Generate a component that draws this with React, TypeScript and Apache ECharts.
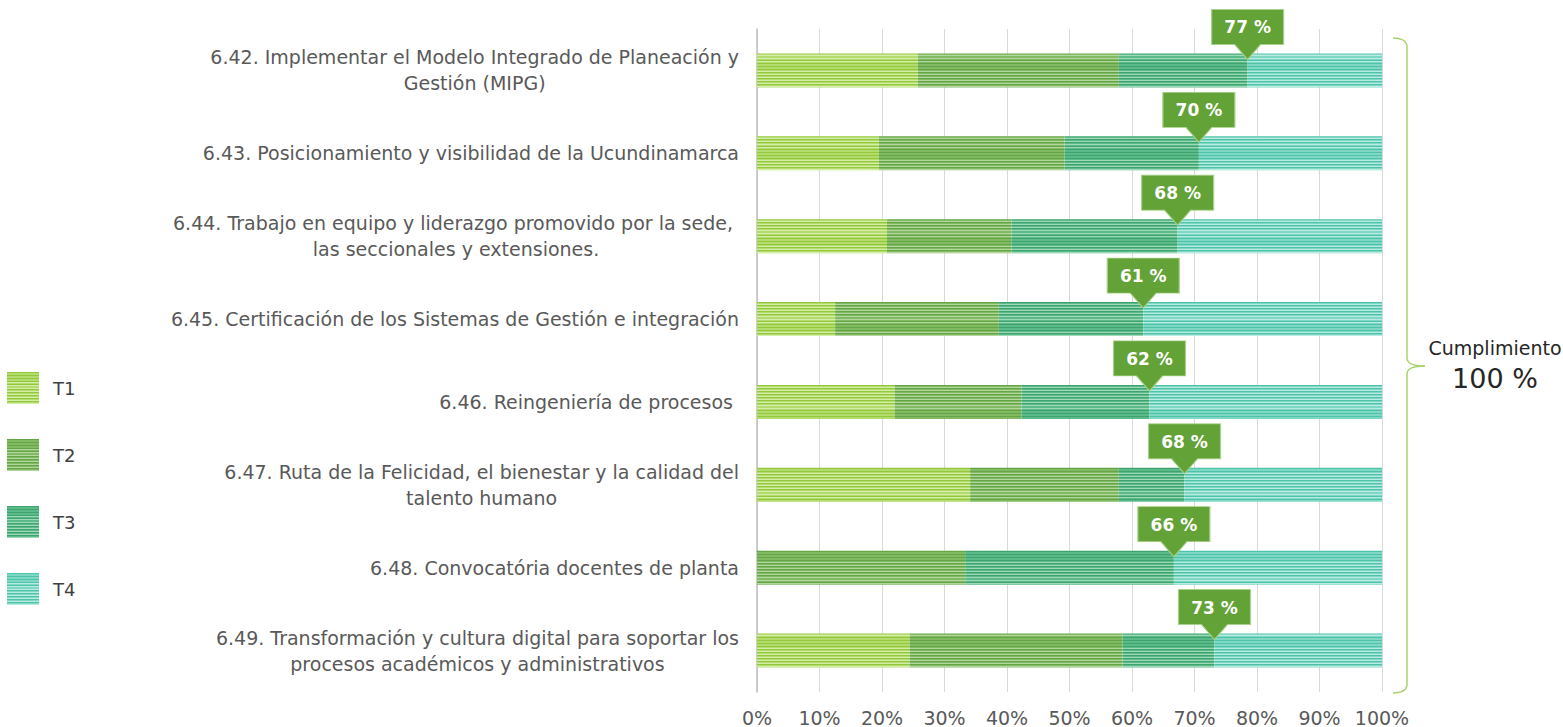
import React, { useEffect, useRef } from "react";
import * as echarts from "echarts";

const categories = [
  "6.42. Implementar el Modelo Integrado de Planeación y\nGestión (MIPG)",
  "6.43. Posicionamiento y visibilidad de la Ucundinamarca",
  "6.44. Trabajo en equipo y liderazgo promovido por la sede, \nlas seccionales y extensiones.",
  "6.45. Certificación de los Sistemas de Gestión e integración",
  "6.46. Reingeniería de procesos ",
  "6.47. Ruta de la Felicidad, el bienestar y la calidad del\ntalento humano",
  "6.48. Convocatória docentes de planta",
  "6.49. Transformación y cultura digital para soportar los\nprocesos académicos y administrativos",
];

const seriesNames = ["T1", "T2", "T3", "T4"];
const t1 = [25.7, 19.5, 20.8, 12.5, 22.0, 34.1, 0, 24.4];
const t2 = [32.2, 29.7, 19.9, 26.2, 20.3, 23.8, 33.3, 34.1];
const t3 = [20.6, 21.5, 26.6, 23.1, 20.5, 10.5, 33.4, 14.7];
const t4 = [21.5, 29.3, 32.7, 38.2, 37.2, 31.6, 33.3, 26.8];
const cumplimiento = [77, 70, 68, 61, 62, 68, 66, 73];
const xTicks = [0, 10, 20, 30, 40, 50, 60, 70, 80, 90, 100];

const FONT = "'DejaVu Sans', sans-serif";
const TEXT = "#595959";

// base, light line, dark line
const palettes = [
  ["#b4db6e", "#d6edaa", "#92c93a"],
  ["#82ba64", "#b3d69f", "#64a545"],
  ["#5cb98a", "#9fd8b9", "#3ca46c"],
  ["#7fd7c4", "#b9ebe0", "#4cc4a9"],
];

function stripes(p: string[]) {
  const n = 11;
  const stops: { offset: number; color: string }[] = [];
  for (let i = 0; i < n; i++) {
    const a = i / n;
    const w = 1 / n;
    stops.push({ offset: a, color: p[2] });
    stops.push({ offset: a + w * 0.3, color: p[2] });
    stops.push({ offset: a + w * 0.3, color: p[0] });
    stops.push({ offset: a + w * 0.6, color: p[0] });
    stops.push({ offset: a + w * 0.6, color: p[1] });
    stops.push({ offset: a + w * 0.85, color: p[1] });
    stops.push({ offset: a + w * 0.85, color: p[0] });
    stops.push({ offset: a + w, color: p[0] });
  }
  return new echarts.graphic.LinearGradient(0, 0, 0, 1, stops);
}

const calloutPath =
  "path://M0,0 L72,0 L72,35 L49,35 L36,50 L23,35 L0,35 Z";

const BRACE = { stroke: "#a8d46f", lineWidth: 1.5, fill: "none" };

export default function App() {
  const ref = useRef<HTMLDivElement>(null);
  useEffect(() => {
    if (!ref.current) return;
    const chart = echarts.init(ref.current, undefined, { renderer: "svg" });
    const values = [t1, t2, t3, t4];
    const series: any[] = values.map((v, i) => ({
      name: seriesNames[i],
      type: "bar",
      stack: "total",
      barWidth: 34,
      data: v,
      itemStyle: { color: stripes(palettes[i]) },
      emphasis: { disabled: true },
    }));
    series[2].markPoint = {
      symbol: calloutPath,
      symbolSize: [72, 50],
      symbolOffset: [0, -36],
      symbolKeepAspect: false,
      itemStyle: { color: "#62a236", borderColor: "#a9d18a", borderWidth: 1 },
      label: {
        show: true,
        position: "inside",
        offset: [0, -7],
        color: "#ffffff",
        fontWeight: "bold",
        fontSize: 17,
        fontFamily: FONT,
        formatter: (p: any) => p.value + " %",
      },
      data: categories.map((c, i) => ({
        coord: [t1[i] + t2[i] + t3[i], c],
        value: cumplimiento[i],
      })),
    };
    chart.setOption({
      animation: false,
      textStyle: { fontFamily: FONT },
      legend: {
        orient: "vertical",
        left: 7,
        top: 372,
        padding: 0,
        itemWidth: 32,
        itemHeight: 32,
        itemGap: 35,
        icon: "rect",
        data: seriesNames,
        textStyle: {
          fontSize: 18,
          color: "#404040",
          fontFamily: FONT,
          padding: [6, 0, 0, 9],
        },
      },
      grid: { left: 757, right: 181, top: 29, bottom: 29, containLabel: false },
      xAxis: {
        type: "value",
        min: 0,
        max: 100,
        interval: 10,
        axisLine: { show: false },
        axisTick: { show: false },
        splitLine: { lineStyle: { color: "#d9d9d9", width: 1 } },
        axisLabel: {
          color: TEXT,
          fontSize: 19,
          fontFamily: FONT,
          margin: 16,
          formatter: (v: number) => (xTicks.includes(v) ? v + "%" : ""),
        },
      },
      yAxis: {
        type: "category",
        inverse: true,
        data: categories,
        axisTick: { show: false },
        axisLine: { show: true, lineStyle: { color: "#bfbfbf", width: 1.5 } },
        axisLabel: {
          interval: 0,
          margin: 18,
          formatter: (v: string) =>
            v
              .split("\n")
              .map((l) => "{c|" + l + "}")
              .join("\n"),
          rich: {
            c: {
              align: "center",
              fontSize: 19,
              lineHeight: 26,
              color: TEXT,
              fontFamily: FONT,
            },
          },
        },
      },
      graphic: [
        {
          type: "group",
          silent: true,
          children: [
            { type: "bezierCurve", shape: { x1: 1393, y1: 38, x2: 1407, y2: 45, cpx1: 1405, cpy1: 38 }, style: BRACE },
            { type: "line", shape: { x1: 1407, y1: 45, x2: 1407, y2: 358 }, style: BRACE },
            { type: "bezierCurve", shape: { x1: 1407, y1: 358, x2: 1425, y2: 366, cpx1: 1407, cpy1: 366 }, style: BRACE },
            { type: "bezierCurve", shape: { x1: 1425, y1: 366, x2: 1407, y2: 374, cpx1: 1407, cpy1: 366 }, style: BRACE },
            { type: "line", shape: { x1: 1407, y1: 374, x2: 1407, y2: 686 }, style: BRACE },
            { type: "bezierCurve", shape: { x1: 1407, y1: 686, x2: 1393, y2: 693, cpx1: 1405, cpy1: 693 }, style: BRACE },
          ],
        },
        {
          type: "text",
          x: 1495,
          y: 348,
          style: {
            text: "Cumplimiento",
            fill: "#262626",
            font: "19px " + FONT,
            textAlign: "center",
            textVerticalAlign: "middle",
          },
        },
        {
          type: "text",
          x: 1495,
          y: 378,
          style: {
            text: "100 %",
            fill: "#262626",
            font: "27px " + FONT,
            textAlign: "center",
            textVerticalAlign: "middle",
          },
        },
      ],
      series,
    });
    return () => chart.dispose();
  }, []);
  return (
    <div
      ref={ref}
      style={{ position: "absolute", left: 0, top: 0, width: 1563, height: 727 }}
    />
  );
}
